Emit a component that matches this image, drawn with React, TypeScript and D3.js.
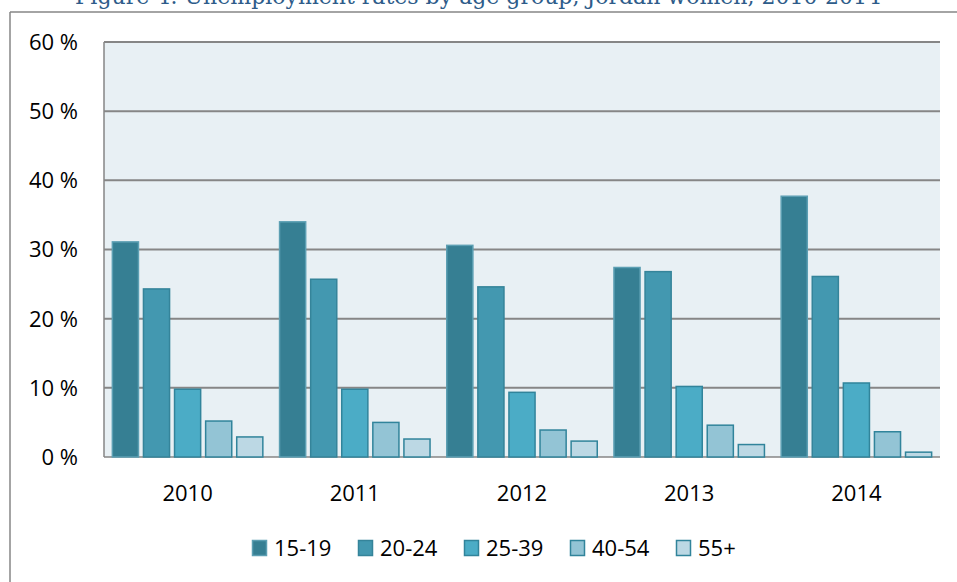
import React from 'react';
import * as d3 from 'd3';

const years = ['2010', '2011', '2012', '2013', '2014'];
const groups = ['15-19', '20-24', '25-39', '40-54', '55+'];
const values: number[][] = [
  // rows = years, columns = age groups
  [31.1, 24.3, 9.8, 5.2, 2.9],
  [34.0, 25.7, 9.8, 5.0, 2.6],
  [30.6, 24.6, 9.35, 3.9, 2.3],
  [27.4, 26.8, 10.2, 4.6, 1.8],
  [37.7, 26.1, 10.7, 3.65, 0.7],
];
const yTicks = [0, 10, 20, 30, 40, 50, 60];
const fills = ['#367f93', '#4398b0', '#4bacc6', '#93c4d5', '#bcd8e4'];
const strokes = ['#5c9fb3', '#35849a', '#31849b', '#31849b', '#31849b'];

const W = 957;
const H = 582;
const plot = { left: 104, top: 42, right: 940, bottom: 457 };
const font = "'Open Sans', sans-serif";

export default function App() {
  const x0 = d3.scaleBand<string>()
    .domain(years)
    .range([plot.left, plot.right])
    .paddingInner(0.1)
    .paddingOuter(0.05);
  const x1 = d3.scaleBand<string>()
    .domain(groups)
    .range([0, x0.bandwidth()])
    .paddingInner(0.16)
    .paddingOuter(0);
  const y = d3.scaleLinear().domain([0, 60]).range([plot.bottom, plot.top]);

  const legendStep = 106;
  const legendX = 252;

  return (
    <svg width={W} height={H} style={{ position: 'absolute', left: 0, top: 0, display: 'block', background: '#fff' }}>
      {/* title, cut off at the top edge like in the source */}
      <text x={478} y={4} textAnchor="middle" fontFamily="'DejaVu Serif', serif" fontSize={22} fill="#2e5c8a">
        Figure 4: Unemployment rates by age group, Jordan women, 2010-2014
      </text>

      {/* outer chart border */}
      <line x1={10} y1={12} x2={W} y2={12} stroke="#868686" strokeWidth={1.5} />
      <line x1={10} y1={12} x2={10} y2={H} stroke="#868686" strokeWidth={1.5} />

      {/* plot background */}
      <rect x={plot.left} y={plot.top} width={plot.right - plot.left} height={plot.bottom - plot.top} fill="#e8f0f4" />

      {/* grid */}
      {yTicks.map(t => (
        <line key={t} x1={plot.left} x2={plot.right} y1={y(t)} y2={y(t)} stroke="#868686" strokeWidth={t === 0 ? 1.5 : 2} />
      ))}
      <line x1={plot.left} x2={plot.left} y1={plot.top} y2={plot.bottom} stroke="#868686" strokeWidth={1.5} />

      {/* y labels */}
      {yTicks.map(t => (
        <text key={t} x={78} y={y(t)} dy="0.36em" textAnchor="end" fontFamily={font} fontSize={22} fill="#000">
          {t} %
        </text>
      ))}

      {/* bars */}
      {years.map((yr, i) => (
        <g key={yr} transform={`translate(${x0(yr)},0)`}>
          {groups.map((g, j) => (
            <rect
              key={g}
              x={x1(g)}
              y={y(values[i][j])}
              width={x1.bandwidth()}
              height={plot.bottom - y(values[i][j])}
              fill={fills[j]}
              stroke={strokes[j]}
              strokeWidth={1.5}
            />
          ))}
        </g>
      ))}

      {/* x labels */}
      {years.map(yr => (
        <text key={yr} x={(x0(yr) || 0) + x0.bandwidth() / 2} y={501} textAnchor="middle" fontFamily={font} fontSize={22} fill="#000">
          {yr}
        </text>
      ))}

      {/* legend */}
      {groups.map((g, j) => (
        <g key={g} transform={`translate(${legendX + j * legendStep},540)`}>
          <rect x={0.5} y={0.5} width={14} height={15} fill={fills[j]} stroke={strokes[j]} strokeWidth={1.5} />
          <text x={22} y={8} dy="0.36em" fontFamily={font} fontSize={22} fill="#000">
            {g}
          </text>
        </g>
      ))}
    </svg>
  );
}
